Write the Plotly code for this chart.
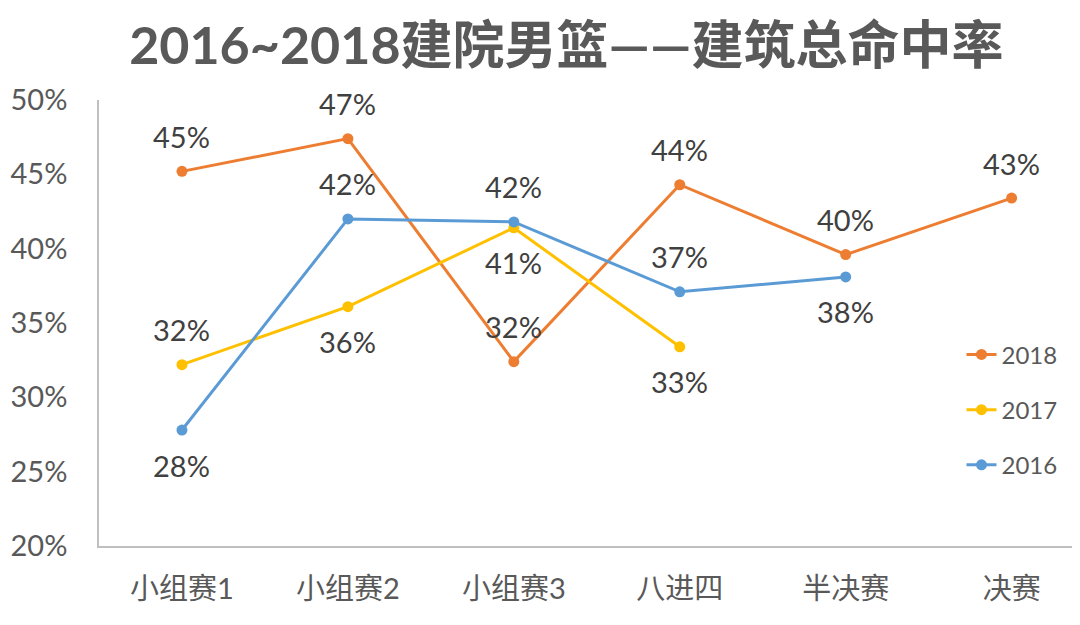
import plotly.graph_objects as go

categories = ["小组赛1", "小组赛2", "小组赛3", "八进四", "半决赛", "决赛"]
series_names = ["2018", "2017", "2016"]
values_2018 = [0.452, 0.474, 0.324, 0.443, 0.396, 0.434]
values_2017 = [0.322, 0.361, 0.414, 0.334, None, None]
values_2016 = [0.278, 0.420, 0.418, 0.371, 0.381, None]
# label position per point: 1 = above, -1 = below
pos_2018 = [1, 1, 1, 1, 1, 1]
pos_2017 = [1, -1, -1, -1, 0, 0]
pos_2016 = [-1, 1, 1, 1, -1, 0]
y_ticks = [0.20, 0.25, 0.30, 0.35, 0.40, 0.45, 0.50]

colors = {"2018": "#ED7D31", "2017": "#FFC000", "2016": "#5B9BD5"}
FONT = "Lato, 'Noto Sans CJK SC', sans-serif"

fig = go.Figure()
data = [("2018", values_2018, pos_2018), ("2017", values_2017, pos_2017), ("2016", values_2016, pos_2016)]
annotations = []
for name, vals, pos in data:
    xs = [c for c, v in zip(categories, vals) if v is not None]
    ys = [v for v in vals if v is not None]
    fig.add_trace(go.Scatter(
        x=xs, y=ys, name=name, mode="lines+markers",
        line=dict(color=colors[name], width=3),
        marker=dict(color=colors[name], size=11),
        legendgroup=name,
    ))
    for c, v, p in zip(categories, vals, pos):
        if v is None or p == 0:
            continue
        annotations.append(dict(
            x=c, y=v, xref="x", yref="y", text=f"{round(v*100):.0f}%",
            showarrow=False, yshift=35 * p,
            font=dict(family=FONT, size=29, color="#404040"),
        ))

fig.update_layout(
    width=1080, height=625,
    paper_bgcolor="white", plot_bgcolor="white",
    margin=dict(l=91, r=10, t=92, b=87),
    title=dict(text="<b>2016~2018建院男篮——建筑总命中率</b>", x=0.517, xanchor="center",
               y=0.94, yanchor="middle",
               font=dict(family=FONT, size=52, color="#595959")),
    annotations=annotations,
    showlegend=True,
    legend=dict(x=0.881, y=0.479, xanchor="left", yanchor="top",
                font=dict(family=FONT, size=24, color="#595959"),
                tracegroupgap=21, bgcolor="rgba(0,0,0,0)"),
    font=dict(family=FONT),
)
fig.update_xaxes(
    categoryorder="array", categoryarray=categories, automargin=False,
    range=[-0.5, 5.4], showgrid=False, showline=True, linecolor="#BFBFBF", linewidth=1.5,
    ticks="", tickfont=dict(family=FONT, size=29, color="#595959"), ticklabelstandoff=16,
)
fig.update_yaxes(
    range=[0.20, 0.50], tickvals=y_ticks, tickformat=".0%", showgrid=False, automargin=False,
    showline=True, linecolor="#BFBFBF", linewidth=1.5, zeroline=False,
    ticks="", tickfont=dict(family=FONT, size=29, color="#595959"), ticklabelstandoff=24,
)
fig.write_html("out.html")
